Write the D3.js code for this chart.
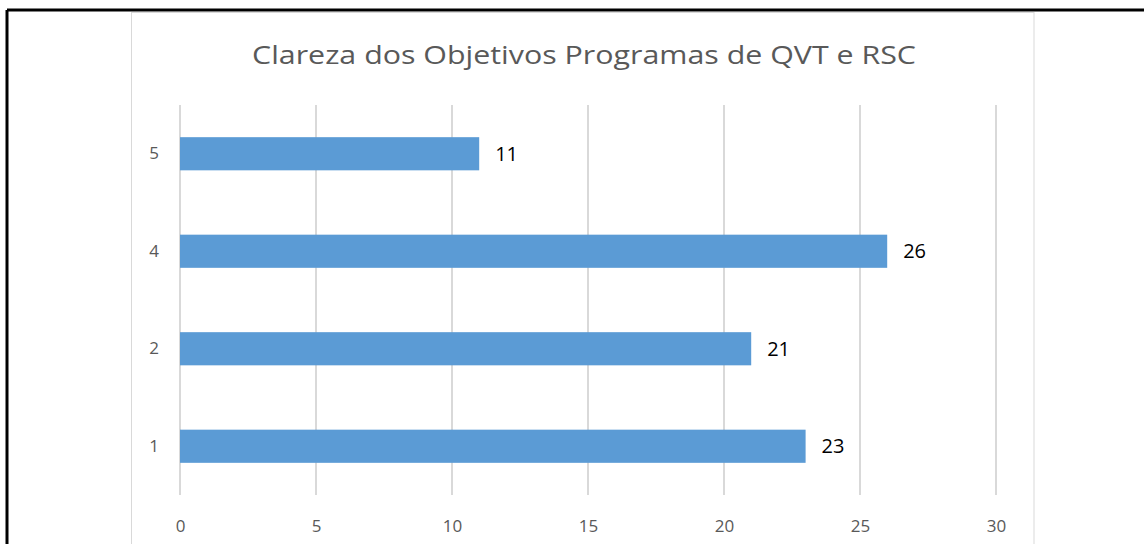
<!DOCTYPE html>
<html>
<head>
<meta charset="utf-8">
<script src="https://cdn.jsdelivr.net/npm/d3@7"></script>
<style>
  html, body { margin: 0; background: #fff; overflow: hidden; }
  svg { display: block; }
  svg text { font-family: "Open Sans", "Liberation Sans", sans-serif; }
</style>
</head>
<body>
<div class="chart"></div>
<script>
// Horizontal bar chart - Clareza dos Objetivos

var svgWidth = 1144;
var svgHeight = 544;

// data
var titleText = "Clareza dos Objetivos Programas de QVT e RSC";
var categories = ["5", "4", "2", "1"];
var values = [11, 26, 21, 23];
var xTicks = [0, 5, 10, 15, 20, 25, 30];

// plot area
var plot = { left: 180, right: 996, top: 105, bottom: 495 };

var svg = d3.select(".chart")
    .append("svg")
    .attr("width", svgWidth)
    .attr("height", svgHeight);

// outer black frame (top and left edge of the cropped page)
svg.append("line")
    .attr("x1", 7).attr("x2", svgWidth)
    .attr("y1", 10).attr("y2", 10)
    .attr("stroke", "#000").attr("stroke-width", 3);
svg.append("line")
    .attr("x1", 7).attr("x2", 7)
    .attr("y1", 10).attr("y2", svgHeight)
    .attr("stroke", "#000").attr("stroke-width", 3);

// chart area border
svg.append("rect")
    .attr("x", 131.5).attr("y", 12.5)
    .attr("width", 1034 - 131.5).attr("height", svgHeight)
    .attr("fill", "#fff")
    .attr("stroke", "#d9d9d9");

var xScale = d3.scaleLinear()
    .domain([0, 30])
    .range([plot.left, plot.right]);

var yScale = d3.scaleBand()
    .domain(categories)
    .range([plot.top, plot.bottom])
    .paddingInner(0.66)
    .paddingOuter(0.33);

// gridlines
svg.append("g")
    .selectAll("line")
    .data(xTicks)
    .enter()
    .append("line")
    .attr("x1", d => xScale(d)).attr("x2", d => xScale(d))
    .attr("y1", plot.top).attr("y2", plot.bottom)
    .attr("stroke", "#d9d9d9")
    .attr("stroke-width", 2);

// x axis labels
var xAxis = d3.axisBottom(xScale).tickValues(xTicks).tickSize(0).tickPadding(0);
var xg = svg.append("g")
    .attr("transform", `translate(0, ${plot.bottom})`)
    .call(xAxis);
xg.select(".domain").remove();
xg.selectAll("text")
    .attr("y", 31)
    .attr("dy", "0.35em")
    .attr("fill", "#595959")
    .style("font-size", "17px");

// y axis labels
var yAxis = d3.axisLeft(yScale).tickSize(0).tickPadding(0);
var yg = svg.append("g")
    .attr("transform", `translate(${plot.left}, 0)`)
    .call(yAxis);
yg.select(".domain").remove();
yg.selectAll("text")
    .attr("x", -26)
    .attr("text-anchor", "middle")
    .attr("fill", "#595959")
    .style("font-size", "17px");

// bars
var rows = categories.map((c, i) => ({ cat: c, val: values[i] }));

svg.append("g")
    .selectAll("rect")
    .data(rows)
    .enter()
    .append("rect")
    .attr("x", xScale(0))
    .attr("y", d => yScale(d.cat))
    .attr("width", d => xScale(d.val) - xScale(0))
    .attr("height", yScale.bandwidth())
    .attr("fill", "#5b9bd5");

// value labels
svg.append("g")
    .selectAll("text")
    .data(rows)
    .enter()
    .append("text")
    .attr("x", d => xScale(d.val) + 16)
    .attr("y", d => yScale(d.cat) + yScale.bandwidth() / 2)
    .attr("dy", "0.36em")
    .attr("fill", "#000")
    .style("font-size", "20px")
    .text(d => d.val);

// title
svg.append("text")
    .attr("x", 584)
    .attr("y", 64)
    .attr("text-anchor", "middle")
    .attr("fill", "#595959")
    .style("font-size", "26px")
    .attr("textLength", 664)
    .attr("lengthAdjust", "spacingAndGlyphs")
    .text(titleText);
</script>
</body>
</html>
